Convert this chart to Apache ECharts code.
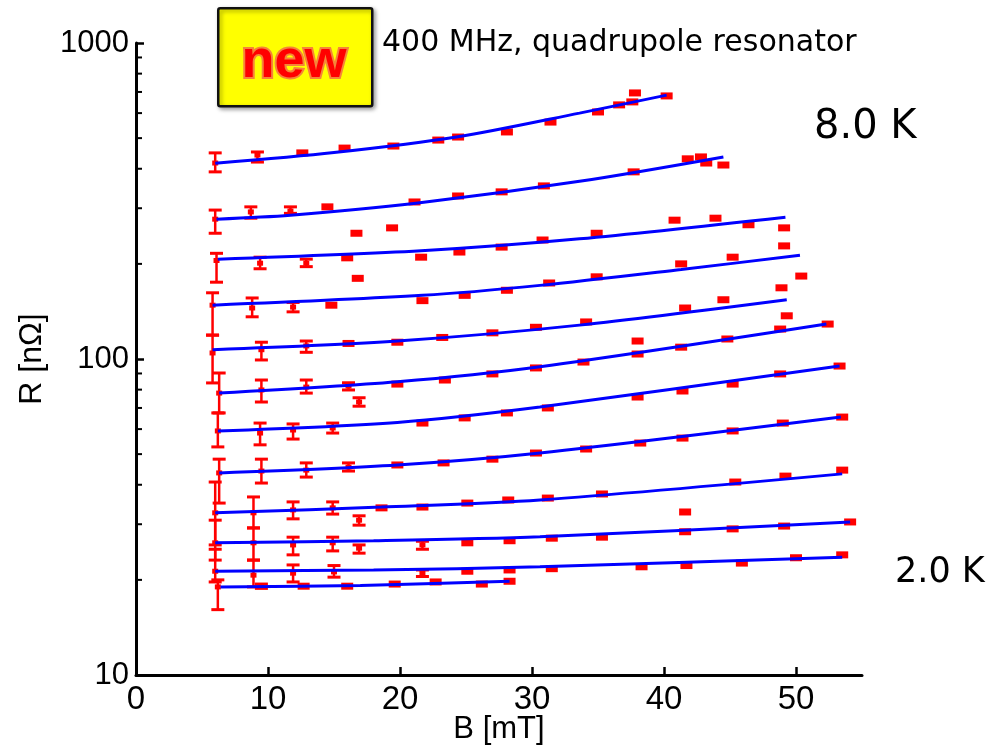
<!DOCTYPE html>
<html><head><meta charset="utf-8">
<script src="https://cdn.jsdelivr.net/npm/echarts@6/dist/echarts.min.js"></script>
<style>html,body{margin:0;padding:0;background:#fff;overflow:hidden}#c{width:992px;height:749px}</style>
</head><body><div id="c"></div>
<script>
// ---- axis ticks ----
const xTicks = [0, 10, 20, 30, 40, 50];
const yMinorTicks = [20, 30, 40, 50, 60, 70, 80, 90, 200, 300, 400, 500, 600, 700, 800, 900];
const topLabel = '8.0 K';
const bottomLabel = '2.0 K';

// ---- measured points: [B, R] or [B, R, low, high] (error bar) ----
const pts1 = [[6.0,417,391,449],[9.2,442,420,452],[12.6,449],[15.8,465],[19.5,472],[22.9,493],[24.4,504],[28.1,523],[31.4,562],[35.0,605],[36.6,637],[37.6,651],[37.8,695],[40.2,680]];
const pts2 = [[6.0,277,250,296],[8.7,292,279,303],[11.7,294,289,303],[14.5,303],[16.7,250],[19.4,260],[21.1,314],[24.4,328],[27.7,338],[30.9,353],[37.7,391],[41.8,430],[42.8,436],[43.2,417],[44.5,411]];
const pts3 = [[6.1,205,175,216],[9.4,201,193,210],[12.9,201,196,207],[16.0,209],[16.8,180],[21.6,210],[24.5,218],[27.7,226],[30.8,238],[34.9,250],[40.8,275],[43.9,279],[46.4,266],[49.1,260],[49.1,228]];
const pts4 = [[5.8,148,119,162],[8.8,145,136,156],[11.9,146,141,151],[14.8,148],[21.7,153],[24.9,159],[28.1,165],[31.3,174],[34.9,182],[41.3,200],[45.2,210],[50.4,183]];
const pts5 = [[5.8,104.5,84,119],[9.5,107,99.3,113],[12.9,110,105,114],[16.1,112],[19.8,113],[23.2,117],[27.0,121],[30.3,126],[34.1,131],[41.6,145],[44.5,154],[48.9,168],[49.3,137]];
const pts6 = [[6.3,78,67.5,90.3],[9.5,79.8,73.1,85.8],[12.9,81.5,78,85.8],[16.1,82.1,79.8,84.1],[16.9,73.1,70.9,75.4],[19.8,83.3],[23.4,85.8],[27.0,89.7],[30.3,93.7],[33.9,97.8],[38.0,103.7],[38.0,114],[41.3,109],[44.8,115.7],[48.8,124.4],[52.4,129]];
const pts7 = [[6.2,59.2,52.7,67.5],[9.4,58.3,53.5,62.7],[11.9,59.6,55.8,62.3],[14.9,60.5,58.3,62.7],[21.7,62.7],[24.9,65.1],[28.1,67.5],[31.2,70.0],[38.0,75.8],[41.4,79.2],[45.2,83.3],[48.8,89.7],[53.3,95.0]];
const pts8 = [[6.3,43.6,35.0,48.2],[9.5,44.2,40.5,48.2],[12.9,44.5,42.3,46.9],[16.1,45.5,44.2,46.9],[19.8,46.2],[23.3,46.9],[27.0,48.2],[30.3,50.4],[34.1,51.9],[38.2,54.2],[41.4,56.2],[45.2,59.2],[49.0,62.7],[53.5,65.5]];
const pts9 = [[6.0,32.6,25.8,40.8],[8.9,32.6,29.2,36.6],[11.9,33.3,31.2,35.3],[14.9,33.8,32.3,35.3],[16.9,30.9,29.8,31.9],[18.6,33.8],[21.7,34.0],[25.1,35.0],[28.2,35.8],[31.2,36.3],[35.3,37.4],[45.4,40.8],[49.2,42.6],[53.5,44.5]];
const pts10 = [[6.0,26.2,23.1,30.9],[8.9,26.2,23.1,29.2],[11.9,25.8,24.0,27.3],[14.9,26.2,24.7,27.3],[16.9,25.2,24.3,25.8],[21.7,25.8,25.0,26.5],[25.1,26.2],[28.3,26.6],[31.5,27.1],[35.3,27.3],[41.6,32.8],[41.6,28.4],[45.2,29.0],[49.1,29.6],[54.1,30.5]];
const pts11 = [[6.0,21.3,19.7,25.0],[8.9,20.7,19.0,23.1],[11.9,21.0,19.7,22.3],[15.0,21.2,20.4,22.2],[21.7,21.0,20.5,21.5],[25.1,21.3],[28.3,21.5],[31.5,21.7],[38.3,22.0],[41.7,22.2],[45.9,22.6],[50.0,23.5],[53.5,24.0]];
const pts12 = [[6.2,19.0,16.1,20.0],[9.5,19.1,18.8,19.4],[12.7,19.1],[16.0,19.1],[19.6,19.4],[22.7,19.7],[26.2,19.4],[28.3,19.8]];

// ---- fitted curves ----
const fit1 = [[6.0,416],[15.0,450],[24.4,505],[33.6,600],[40.2,684]];
const fit2 = [[6.1,277],[11.7,285],[21.2,311],[33.6,365],[44.5,436]];
const fit3 = [[6.2,207],[21.6,220],[33.6,240],[49.2,281]];
const fit4 = [[5.8,148],[21.7,159],[30.6,171],[41.3,192],[50.3,213]];
const fit5 = [[5.8,107],[19.8,114],[33.6,128],[49.3,154]];
const fit6 = [[6.3,78],[19.8,84.7],[30.6,94.5],[52.3,129]];
const fit7 = [[6.2,59.2],[19.8,63],[30.6,70.5],[53.3,95]];
const fit8 = [[6.3,43.6],[19.8,46.2],[30.6,50.4],[53.4,65.5]];
const fit9 = [[6.0,32.6],[18.6,34.0],[30.6,35.8],[53.5,43.3]];
const fit10 = [[6.0,26.2],[18.0,26.6],[30.6,27.4],[54.1,30.5]];
const fit11 = [[6.0,21.3],[18.0,21.5],[30.6,22.0],[53.5,23.6]];
const fit12 = [[6.4,19.0],[17.0,19.2],[28.3,19.8]];

const ptsAll = [pts1,pts2,pts3,pts4,pts5,pts6,pts7,pts8,pts9,pts10,pts11,pts12];
const fitsAll = [fit1,fit2,fit3,fit4,fit5,fit6,fit7,fit8,fit9,fit10,fit11,fit12];

const RED = '#ff0000', BLUE = '#0000ff';

function errRender(params, api) {
  const x = api.value(0), y = api.value(1), lo = api.value(2), hi = api.value(3);
  const pLo = api.coord([x, lo]), pHi = api.coord([x, hi]), pC = api.coord([x, y]);
  const hw = 6.5;
  const cap = {stroke: RED, lineWidth: 3};
  return {type: 'group', children: [
    {type: 'line', shape: {x1: pLo[0], y1: pLo[1], x2: pHi[0], y2: pHi[1]}, style: {stroke: RED, lineWidth: 2.5}},
    {type: 'line', shape: {x1: pLo[0]-hw, y1: pLo[1], x2: pLo[0]+hw, y2: pLo[1]}, style: cap},
    {type: 'line', shape: {x1: pHi[0]-hw, y1: pHi[1], x2: pHi[0]+hw, y2: pHi[1]}, style: cap},
    {type: 'rect', shape: {x: pC[0]-3, y: pC[1]-2.5, width: 6, height: 5}, style: {fill: RED}}
  ]};
}
function minorRender(params, api) {
  const p = api.coord([api.value(0), api.value(1)]);
  return {type: 'line', shape: {x1: p[0], y1: p[1], x2: p[0]+6, y2: p[1]}, style: {stroke: '#000', lineWidth: 2}};
}

const series = [];
ptsAll.forEach((p, i) => {
  series.push({type: 'scatter', name: 'pts' + (i+1), data: p.filter(d => d.length === 2),
    symbol: 'rect', symbolSize: [12, 7], itemStyle: {color: RED, opacity: 1}, z: 3, silent: true});
  series.push({type: 'custom', name: 'err' + (i+1), data: p.filter(d => d.length === 4),
    renderItem: errRender, encode: {x: 0, y: 1}, z: 3, silent: true});
});
fitsAll.forEach((f, i) => {
  series.push({type: 'line', name: 'fit' + (i+1), data: f, smooth: 0.3, symbol: 'none',
    lineStyle: {color: BLUE, width: 3}, z: 5, silent: true});
});
series.push({type: 'custom', name: 'minorTicks', data: yMinorTicks.map(v => [0, v]),
  renderItem: minorRender, encode: {x: 0, y: 1}, z: 6, clip: false, silent: true});

const chart = echarts.init(document.getElementById('c'), null, {renderer: 'canvas', width: 992, height: 749});
chart.setOption({
  animation: false,
  backgroundColor: '#fff',
  grid: {left: 136, top: 43, width: 726, height: 632, containLabel: false, outerBoundsMode: 'none'},
  xAxis: {
    type: 'value', min: 0, max: 55, interval: 10,
    axisLine: {onZero: false, lineStyle: {color: '#000', width: 3}},
    axisTick: {inside: true, length: 8, lineStyle: {color: '#000', width: 2.5}, customValues: xTicks},
    axisLabel: {customValues: xTicks, color: '#000', fontFamily: '"Liberation Sans Narrow", "Liberation Sans", Arial, sans-serif', fontSize: 33, margin: 8},
    splitLine: {show: false},
    name: 'B [mT]', nameLocation: 'middle', nameGap: 39, nameMoveOverlap: false,
    nameTextStyle: {color: '#000', fontFamily: '"Liberation Sans", Arial, sans-serif', fontSize: 31}
  },
  yAxis: {
    type: 'log', logBase: 10, min: 10, max: 1000,
    axisLine: {show: true, lineStyle: {color: '#000', width: 3}},
    axisTick: {show: true, inside: true, length: 8, lineStyle: {color: '#000', width: 2.5}},
    axisLabel: {color: '#000', fontFamily: '"Liberation Sans", Arial, sans-serif', fontSize: 31, margin: 7,
      formatter: v => String(Math.round(v))},
    splitLine: {show: false},
    name: 'R [nΩ]', nameLocation: 'middle', nameRotate: 90, nameGap: 88, nameMoveOverlap: false,
    nameTextStyle: {color: '#000', fontFamily: '"Liberation Sans", Arial, sans-serif', fontSize: 32}
  },
  graphic: [
    {type: 'rect', left: 217, top: 7, shape: {width: 154, height: 98, r: 2},
      style: {fill: '#ffff00', stroke: '#111', lineWidth: 2.5, shadowBlur: 4, shadowOffsetX: 2, shadowOffsetY: 2, shadowColor: 'rgba(0,0,0,0.35)'}, z: 10},
    {type: 'text', x: 294, y: 62, z: 11,
      style: {text: 'new', fill: RED, stroke: '#f5843a', lineWidth: 4, strokeFirst: true,
        font: 'bold 54px "Liberation Sans", Arial, sans-serif', align: 'center', verticalAlign: 'middle',
        shadowBlur: 3, shadowColor: 'rgba(120,80,0,0.5)', shadowOffsetX: 1, shadowOffsetY: 2}},
    {type: 'text', x: 382, y: 43, z: 11,
      style: {text: '400 MHz, quadrupole resonator', fill: '#000', font: '30px "DejaVu Sans", sans-serif', align: 'left', verticalAlign: 'middle'}},
    {type: 'text', x: 814, y: 128, z: 11,
      style: {text: topLabel, fill: '#000', font: '40px "DejaVu Sans", sans-serif', align: 'left', verticalAlign: 'middle'}},
    {type: 'text', x: 895, y: 573, z: 11,
      style: {text: bottomLabel, fill: '#000', font: '35px "DejaVu Sans", sans-serif', align: 'left', verticalAlign: 'middle'}}
  ],
  series: series
});
</script></body></html>
